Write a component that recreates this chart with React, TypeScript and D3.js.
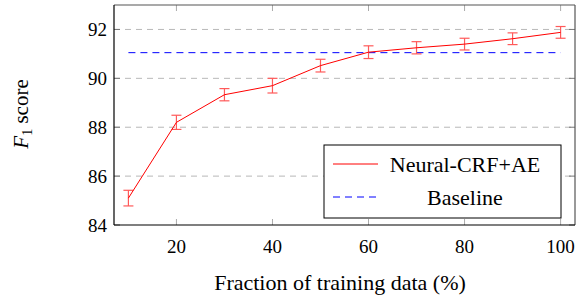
import React, { useEffect, useRef } from "react";
import * as d3 from "d3";

// fraction of training data (%)
const fractions = [10, 20, 30, 40, 50, 60, 70, 80, 90, 100];
// Neural-CRF+AE F1 and error half-widths
const f1Scores = [85.1, 88.2, 89.33, 89.7, 90.52, 91.07, 91.25, 91.4, 91.62, 91.88];
const f1Errors = [0.32, 0.29, 0.25, 0.3, 0.26, 0.26, 0.25, 0.24, 0.24, 0.24];
const baselineScore = 91.05;
const xTicks = [20, 40, 60, 80, 100];
const yTicks = [84, 86, 88, 90, 92];

const App = () => {
  const ref = useRef<SVGSVGElement>(null);

  useEffect(() => {
    const width = 586;
    const height = 298;
    const margin = { top: 5, left: 114, bottom: 73, right: 11 };
    const iwidth = width - margin.left - margin.right;
    const iheight = height - margin.top - margin.bottom;

    const svg = d3.select(ref.current);
    svg.selectAll("*").remove();

    const x = d3.scaleLinear().domain([7, 103]).range([0, iwidth]);
    const y = d3.scaleLinear().domain([84, 93]).range([iheight, 0]);

    const g = svg
      .append("g")
      .attr("transform", `translate(${margin.left},${margin.top})`);

    // dashed grid
    g.selectAll(".grid")
      .data(yTicks.slice(1))
      .enter()
      .append("line")
      .attr("x1", 0)
      .attr("x2", iwidth)
      .attr("y1", (d) => y(d))
      .attr("y2", (d) => y(d))
      .attr("stroke", "#b8b8b8")
      .attr("stroke-width", 1)
      .attr("stroke-dasharray", "6,5");

    // inner ticks (bottom/top for x, left/right for y)
    xTicks.forEach((t) => {
      g.append("line")
        .attr("x1", x(t)).attr("x2", x(t))
        .attr("y1", iheight).attr("y2", iheight - 6)
        .attr("stroke", "#aaa");
      g.append("line")
        .attr("x1", x(t)).attr("x2", x(t))
        .attr("y1", 0).attr("y2", 6)
        .attr("stroke", "#aaa");
    });
    yTicks.forEach((t) => {
      g.append("line")
        .attr("x1", 0).attr("x2", 6)
        .attr("y1", y(t)).attr("y2", y(t))
        .attr("stroke", "#777");
      g.append("line")
        .attr("x1", iwidth).attr("x2", iwidth - 6)
        .attr("y1", y(t)).attr("y2", y(t))
        .attr("stroke", "#777");
    });

    // frame
    g.append("line").attr("x1", 0).attr("x2", iwidth).attr("y1", 0).attr("y2", 0)
      .attr("stroke", "#555").attr("stroke-width", 1.2);
    g.append("line").attr("x1", iwidth).attr("x2", iwidth).attr("y1", 0).attr("y2", iheight)
      .attr("stroke", "#555").attr("stroke-width", 1.2);
    g.append("line").attr("x1", 0).attr("x2", 0).attr("y1", 0).attr("y2", iheight)
      .attr("stroke", "#000").attr("stroke-width", 1.2);
    g.append("line").attr("x1", 0).attr("x2", iwidth).attr("y1", iheight).attr("y2", iheight)
      .attr("stroke", "#000").attr("stroke-width", 1.2);

    // tick labels
    g.selectAll(".xl")
      .data(xTicks)
      .enter()
      .append("text")
      .attr("x", (d) => x(d))
      .attr("y", iheight + 28)
      .attr("text-anchor", "middle")
      .attr("font-size", 19)
      .text((d) => d);
    g.selectAll(".yl")
      .data(yTicks)
      .enter()
      .append("text")
      .attr("x", -7)
      .attr("y", (d) => y(d))
      .attr("dy", "0.35em")
      .attr("text-anchor", "end")
      .attr("font-size", 19)
      .text((d) => d);

    // baseline
    g.append("line")
      .attr("x1", x(10))
      .attr("x2", x(100))
      .attr("y1", y(baselineScore))
      .attr("y2", y(baselineScore))
      .attr("stroke", "#0000ff")
      .attr("stroke-dasharray", "7,5");

    // error bars
    const eb = g.selectAll(".eb").data(fractions).enter().append("g");
    eb.append("line")
      .attr("x1", (d) => x(d)).attr("x2", (d) => x(d))
      .attr("y1", (d, i) => y(f1Scores[i] - f1Errors[i]))
      .attr("y2", (d, i) => y(f1Scores[i] + f1Errors[i]))
      .attr("stroke", "#ff5a5a").attr("stroke-width", 1.2);
    [-1, 1].forEach((s) => {
      eb.append("line")
        .attr("x1", (d) => x(d) - 5).attr("x2", (d) => x(d) + 5)
        .attr("y1", (d, i) => y(f1Scores[i] + s * f1Errors[i]))
        .attr("y2", (d, i) => y(f1Scores[i] + s * f1Errors[i]))
        .attr("stroke", "#ff5a5a").attr("stroke-width", 1.2);
    });

    // main line
    const line = d3
      .line<number>()
      .x((d, i) => x(fractions[i]))
      .y((d) => y(d));
    g.append("path")
      .datum(f1Scores)
      .attr("fill", "none")
      .attr("stroke", "#ff0000")
      .attr("stroke-width", 1)
      .attr("d", line);

    // legend
    const lg = svg.append("g").attr("transform", "translate(324,145)");
    lg.append("rect")
      .attr("width", 237)
      .attr("height", 73)
      .attr("fill", "#fff")
      .attr("stroke", "#000");
    lg.append("line").attr("x1", 9).attr("x2", 54).attr("y1", 19).attr("y2", 19)
      .attr("stroke", "#ff0000");
    lg.append("line").attr("x1", 9).attr("x2", 54).attr("y1", 52).attr("y2", 52)
      .attr("stroke", "#0000ff").attr("stroke-dasharray", "7,5");
    lg.append("text").attr("x", 141).attr("y", 19).attr("dy", "0.35em")
      .attr("text-anchor", "middle").attr("font-size", 22)
      .text("Neural-CRF+AE");
    lg.append("text").attr("x", 141).attr("y", 52).attr("dy", "0.35em")
      .attr("text-anchor", "middle").attr("font-size", 22)
      .text("Baseline");

    // axis titles
    svg.append("text")
      .attr("x", 340)
      .attr("y", 290)
      .attr("text-anchor", "middle")
      .attr("font-size", 22)
      .text("Fraction of training data (%)");

    const yl = svg.append("text")
      .attr("transform", `translate(28,114) rotate(-90)`)
      .attr("text-anchor", "middle")
      .attr("font-size", 21);
    yl.append("tspan").attr("font-style", "italic").text("F");
    yl.append("tspan").attr("dy", 4).attr("font-size", 14).text("1");
    yl.append("tspan").attr("dy", -4).text(" score");
  }, []);

  return (
    <svg
      ref={ref}
      width={586}
      height={298}
      fontFamily="'Liberation Serif', 'Times New Roman', serif"
      style={{ position: "absolute", left: 0, top: 0 }}
    />
  );
};

export default App;
